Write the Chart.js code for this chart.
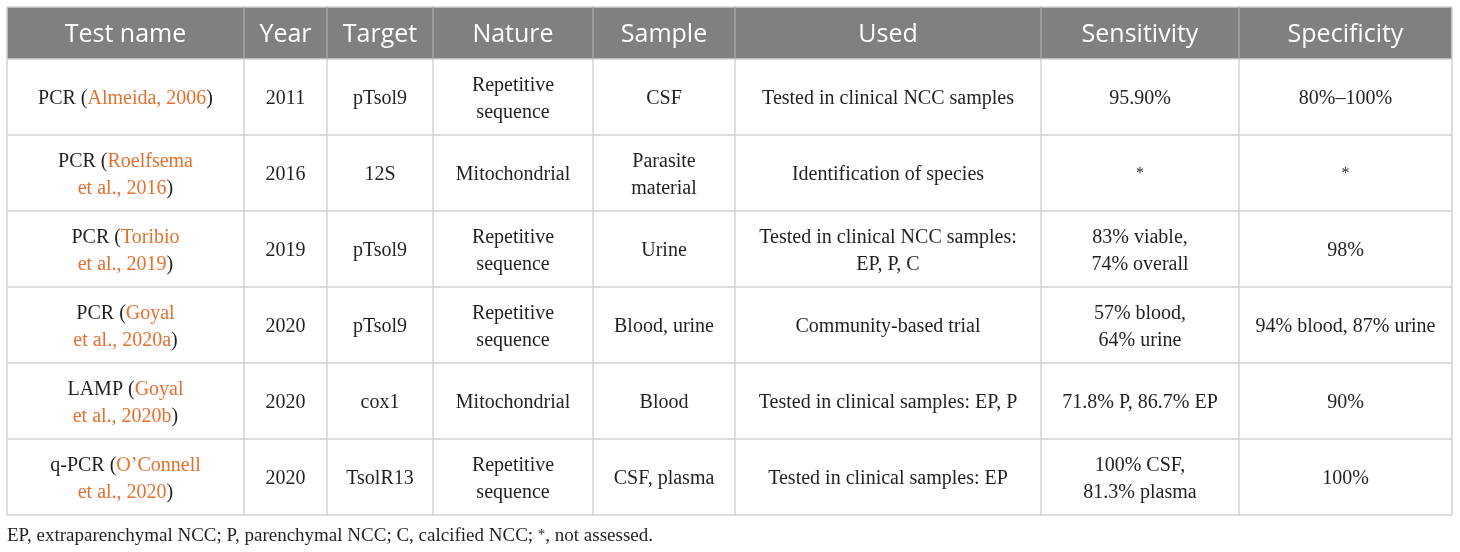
<!DOCTYPE html>
<html>
<head>
<meta charset="utf-8">
<script src="https://cdn.jsdelivr.net/npm/chart.js@4/dist/chart.umd.min.js"></script>
<style>
  body { margin: 0; background: #ffffff; }
  #box { width: 1460px; height: 552px; }
</style>
</head>
<body>
<div id="box"><canvas id="tableau"></canvas></div>
<script>
// Donnees du tableau ({ } = reference en orange, ^ = exposant)
const entetes = ["Test name", "Year", "Target", "Nature", "Sample", "Used", "Sensitivity", "Specificity"];
const nomsTest = ["PCR ({Almeida, 2006})", "PCR ({Roelfsema\net al., 2016})", "PCR ({Toribio\net al., 2019})",
                  "PCR ({Goyal\net al., 2020a})", "LAMP ({Goyal\net al., 2020b})", "q-PCR ({O’Connell\net al., 2020})"];
const annees = ["2011", "2016", "2019", "2020", "2020", "2020"];
const cibles = ["pTsol9", "12S", "pTsol9", "pTsol9", "cox1", "TsolR13"];
const natures = ["Repetitive\nsequence", "Mitochondrial", "Repetitive\nsequence", "Repetitive\nsequence", "Mitochondrial", "Repetitive\nsequence"];
const echantillons = ["CSF", "Parasite\nmaterial", "Urine", "Blood, urine", "Blood", "CSF, plasma"];
const utilisations = ["Tested in clinical NCC samples", "Identification of species", "Tested in clinical NCC samples:\nEP, P, C",
                      "Community-based trial", "Tested in clinical samples: EP, P", "Tested in clinical samples: EP"];
const sensibilites = ["95.90%", "^*", "83% viable,\n74% overall", "57% blood,\n64% urine", "71.8% P, 86.7% EP", "100% CSF,\n81.3% plasma"];
const specificites = ["80%–100%", "^*", "98%", "94% blood, 87% urine", "90%", "100%"];
const noteBas = "EP, extraparenchymal NCC; P, parenchymal NCC; C, calcified NCC; ^*, not assessed.";

const colonnes = [nomsTest, annees, cibles, natures, echantillons, utilisations, sensibilites, specificites];

// Mise en page (unites des axes)
const bordsColonnes = [7, 244, 327, 433, 593, 735, 1041, 1239, 1452];
const hautEntete = 7, basEntete = 59, hauteurLigne = 76;

const SERIF = '"Liberation Serif", "DejaVu Serif", serif';
const ORANGE = "#e4702e";

// Decoupe un texte en morceaux (couleur orange / exposant)
function morceaux(ligne, etat) {
  const res = [];
  let sup = false;
  for (const c of ligne) {
    if (c === "{") { etat.orange = true; continue; }
    if (c === "}") { etat.orange = false; continue; }
    if (c === "^") { sup = true; continue; }
    const dernier = res[res.length - 1];
    if (dernier && dernier.orange === etat.orange && dernier.sup === sup) {
      dernier.texte += c;
    } else {
      res.push({ texte: c, orange: etat.orange, sup: sup });
    }
    sup = false;
  }
  return res;
}

function ecrireLigne(ctx, ligne, x, y, etat, taille, aligne) {
  const bouts = morceaux(ligne, etat);
  let total = 0;
  for (const b of bouts) {
    ctx.font = (b.sup ? Math.round(taille * 0.8) : taille) + "px " + SERIF;
    b.largeur = ctx.measureText(b.texte).width;
    total += b.largeur;
  }
  let px = aligne === "left" ? x : x - total / 2;
  for (const b of bouts) {
    ctx.font = (b.sup ? Math.round(taille * 0.8) : taille) + "px " + SERIF;
    ctx.fillStyle = b.orange ? ORANGE : "#231f20";
    ctx.fillText(b.texte, px, b.sup ? y - 2 : y);
    px += b.largeur;
  }
}

const pluginTableau = {
  id: "pluginTableau",
  afterDraw(chart) {
    const ctx = chart.ctx;
    const sx = chart.scales.x, sy = chart.scales.y;
    const X = v => sx.getPixelForValue(v);
    const Y = v => sy.getPixelForValue(v);
    const nbLignes = nomsTest.length;
    const basTableau = basEntete + nbLignes * hauteurLigne;
    ctx.save();
    ctx.textBaseline = "alphabetic";
    ctx.textAlign = "left";

    // Fond de l'entete
    ctx.fillStyle = "#808080";
    ctx.fillRect(X(bordsColonnes[0]), Y(hautEntete), X(bordsColonnes[8]) - X(bordsColonnes[0]), Y(basEntete) - Y(hautEntete));

    // Lignes du quadrillage
    ctx.lineWidth = 1.5;
    ctx.strokeStyle = "#d2d2d2";
    for (let r = 0; r <= nbLignes; r++) {
      const yy = Y(basEntete + r * hauteurLigne);
      ctx.beginPath();
      ctx.moveTo(X(bordsColonnes[0]), yy);
      ctx.lineTo(X(bordsColonnes[8]), yy);
      ctx.stroke();
    }
    ctx.beginPath();
    ctx.moveTo(X(bordsColonnes[0]), Y(hautEntete));
    ctx.lineTo(X(bordsColonnes[8]), Y(hautEntete));
    ctx.stroke();
    for (let c = 0; c < bordsColonnes.length; c++) {
      const xx = X(bordsColonnes[c]);
      ctx.strokeStyle = "#d2d2d2";
      ctx.beginPath();
      ctx.moveTo(xx, Y(basEntete));
      ctx.lineTo(xx, Y(basTableau));
      ctx.stroke();
      ctx.strokeStyle = (c === 0 || c === bordsColonnes.length - 1) ? "#d2d2d2" : "#a6a6a6";
      ctx.beginPath();
      ctx.moveTo(xx, Y(hautEntete));
      ctx.lineTo(xx, Y(basEntete));
      ctx.stroke();
    }

    // Texte de l'entete
    ctx.font = '25px "Open Sans", sans-serif';
    ctx.fillStyle = "#ffffff";
    ctx.textAlign = "center";
    for (let c = 0; c < entetes.length; c++) {
      const cx = (X(bordsColonnes[c]) + X(bordsColonnes[c + 1])) / 2;
      ctx.fillText(entetes[c], cx, Y((hautEntete + basEntete) / 2) + 9);
    }
    ctx.textAlign = "left";

    // Cellules
    for (let c = 0; c < colonnes.length; c++) {
      const cx = (X(bordsColonnes[c]) + X(bordsColonnes[c + 1])) / 2;
      for (let r = 0; r < nbLignes; r++) {
        const cy = Y(basEntete + (r + 0.5) * hauteurLigne);
        const lignes = colonnes[c][r].split("\n");
        const etat = { orange: false };
        const pas = 27;
        for (let k = 0; k < lignes.length; k++) {
          const dy = (k - (lignes.length - 1) / 2) * pas;
          ecrireLigne(ctx, lignes[k], cx, cy + dy + 7, etat, 20, "center");
        }
      }
    }

    // Note de bas de tableau
    ecrireLigne(ctx, noteBas, X(bordsColonnes[0]), Y(basTableau) + 26, { orange: false }, 19, "left");
    ctx.restore();
  }
};

new Chart(document.querySelector("#tableau"), {
  type: "scatter",
  data: { datasets: [] },
  options: {
    responsive: true,
    maintainAspectRatio: false,
    animation: false,
    layout: { padding: 0 },
    plugins: { legend: { display: false }, tooltip: { enabled: false } },
    scales: {
      x: { type: "linear", min: 0, max: 1460, display: false },
      y: { type: "linear", min: 0, max: 552, reverse: true, display: false }
    }
  },
  plugins: [pluginTableau]
});
</script>
</body>
</html>
